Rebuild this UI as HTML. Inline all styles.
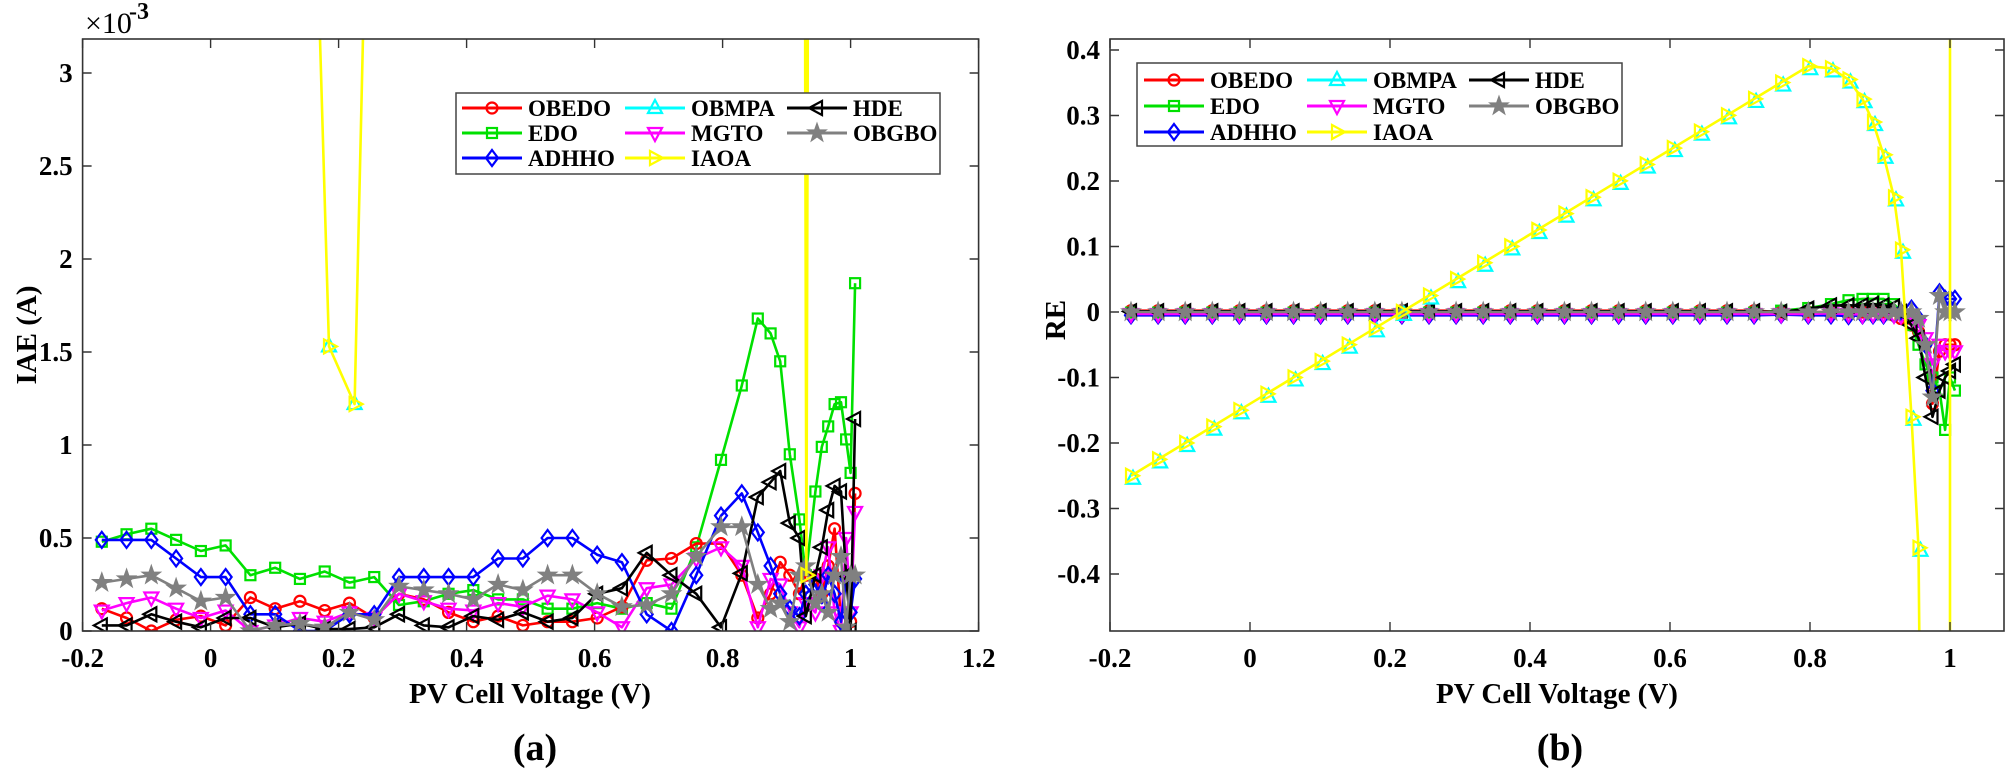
<!DOCTYPE html>
<html><head><meta charset="utf-8">
<style>
html,body{margin:0;padding:0;background:#fff;}
svg{display:block;}
svg text{font-family:"Liberation Serif","Times New Roman",serif;font-weight:bold;}
</style></head>
<body>
<svg id="s" width="2007" height="772" viewBox="0 0 2007 772" xmlns="http://www.w3.org/2000/svg" font-family="Liberation Serif, serif" font-weight="bold">
<defs>
<clipPath id="c1"><rect x="83" y="39" width="896" height="592"/></clipPath>
<clipPath id="c2"><rect x="1110" y="39" width="894" height="592"/></clipPath>
</defs>
<rect width="2007" height="772" fill="#fff"/>
<g id="g1" clip-path="url(#c1)"></g>
<g id="g2" clip-path="url(#c2)"></g>
<g id="ax"></g>
</svg>
<script>
var NS="http://www.w3.org/2000/svg";
function el(p,t,a,txt){var e=document.createElementNS(NS,t);for(var k in a)e.setAttribute(k,a[k]);if(txt!==undefined)e.textContent=txt;p.appendChild(e);return e;}
var V=[];for(var k=0;k<26;k++)V.push(-0.17+0.0387*k);
V=V.concat([0.83,0.855,0.875,0.89,0.905,0.92,0.93,0.945,0.955,0.965,0.975,0.985,0.993,1.0,1.007]);
function X1(v){return 82.6+(v+0.2)*640;} function Y1(a){return 631-a*186;}
function X2(v){return 1110+(v+0.2)*700;} function Y2(r){return 312-r*655;}
function marker(g,type,x,y,c){
 var sw=2.2;
 if(type=='o')el(g,'circle',{cx:x,cy:y,r:5.5,fill:'none',stroke:c,'stroke-width':sw});
 else if(type=='s')el(g,'rect',{x:x-5,y:y-5,width:10,height:10,fill:'none',stroke:c,'stroke-width':sw});
 else if(type=='d')el(g,'polygon',{points:(x)+','+(y-8)+' '+(x+6)+','+y+' '+x+','+(y+8)+' '+(x-6)+','+y,fill:'none',stroke:c,'stroke-width':sw});
 else if(type=='^')el(g,'polygon',{points:x+','+(y-8)+' '+(x+7)+','+(y+5)+' '+(x-7)+','+(y+5),fill:'none',stroke:c,'stroke-width':sw});
 else if(type=='v')el(g,'polygon',{points:x+','+(y+8)+' '+(x+7)+','+(y-5)+' '+(x-7)+','+(y-5),fill:'none',stroke:c,'stroke-width':sw});
 else if(type=='>')el(g,'polygon',{points:(x+8)+','+y+' '+(x-5)+','+(y-7)+' '+(x-5)+','+(y+7),fill:'none',stroke:c,'stroke-width':sw});
 else if(type=='<')el(g,'polygon',{points:(x-8)+','+y+' '+(x+5)+','+(y-7)+' '+(x+5)+','+(y+7),fill:'none',stroke:c,'stroke-width':sw});
 else if(type=='*'){var p=[];for(var i=0;i<10;i++){var r=i%2?4:10,a=-Math.PI/2+i*Math.PI/5;p.push((x+r*Math.cos(a)).toFixed(1)+','+(y+r*Math.sin(a)).toFixed(1));}
  el(g,'polygon',{points:p.join(' '),fill:c,stroke:c,'stroke-width':1});}
}
function series(g,X,Y,xs,ys,c,m,noMarkIdx){
 var d='';for(var i=0;i<xs.length;i++)d+=(i?'L':'M')+X(xs[i]).toFixed(1)+','+Y(ys[i]).toFixed(1);
 el(g,'path',{d:d,fill:'none',stroke:c,'stroke-width':2.6,'stroke-linejoin':'round'});
 for(var i=0;i<xs.length;i++){if(noMarkIdx&&noMarkIdx.indexOf(i)>=0)continue;marker(g,m,X(xs[i]),Y(ys[i]),c);}
}
var g1=document.getElementById('g1'),g2=document.getElementById('g2'),ax=document.getElementById('ax');
var L={
 green:[.48,.52,.55,.49,.43,.46,.3,.34,.28,.32,.26,.29,.14,.16,.2,.22,.17,.17,.12,.12,.15,.12,.15,.12,.45,.92,1.32,1.68,1.6,1.45,.95,.6,.3,.75,.99,1.1,1.22,1.23,1.03,.85,1.87],
 blue:[.49,.49,.49,.39,.29,.29,.09,.09,0,0,.09,.09,.29,.29,.29,.29,.39,.39,.5,.5,.41,.37,.09,0,.3,.62,.74,.53,.35,.2,.12,.08,.2,.25,.15,.3,.2,.05,.28,.1,.28],
 red:[.12,.07,0,.06,.08,.03,.18,.12,.16,.11,.15,.07,.2,.17,.1,.05,.08,.03,.05,.05,.07,.13,.38,.39,.47,.47,.3,.07,.2,.37,.3,.2,.3,.28,.2,.35,.55,.05,.3,.05,.74],
 mag:[.11,.15,.18,.12,.07,.11,0,.03,.07,.05,.1,.07,.2,.16,.12,.11,.15,.13,.19,.17,.1,.02,.23,.25,.39,.45,.35,.02,.28,.25,.1,.02,.15,.1,.3,.45,.1,0,.5,.1,.64],
 black:[.03,.03,.09,.05,.02,.07,.07,.02,.04,.01,.01,.02,.09,.03,.02,.08,.06,.1,.05,.07,.2,.23,.42,.3,.2,.02,.31,.72,.8,.86,.58,.5,.08,.3,.45,.65,.78,.75,.3,0,1.14],
 gray:[.26,.28,.3,.23,.16,.18,0,.03,.04,.02,.1,.06,.24,.22,.2,.17,.25,.22,.3,.3,.2,.13,.14,.2,.4,.56,.56,.25,.12,.15,.05,.3,.35,.15,.2,.1,.3,.4,.02,.3,.3]
};
series(g1,X1,Y1,V,L.green,'#00e000','s');
series(g1,X1,Y1,V,L.red,'#ff0000','o');
series(g1,X1,Y1,V,L.mag,'#ff00ff','v');
series(g1,X1,Y1,V,L.blue,'#0000ff','d');
series(g1,X1,Y1,V,L.black,'#000000','<');
series(g1,X1,Y1,V,L.gray,'#808080','*');
var yx=[0.13,0.185,0.225,0.27],yy=[8,1.53,1.22,8];
marker(g1,'^',X1(0.185),Y1(1.53),'#00ffff');marker(g1,'^',X1(0.225),Y1(1.22),'#00ffff');
series(g1,X1,Y1,yx,yy,'#ffff00','>',[0,3]);
series(g1,X1,Y1,[0.928,0.929,0.931,0.933,0.934],[8,3,0.3,3,8],'#ffff00','>',[0,1,3,4]);
function lin(v){return -0.25+(v+0.17)*0.625/0.967;}
var RY=[];for(var i=0;i<26;i++)RY.push(lin(V[i]));
var tailY=[.372,.355,.325,.29,.24,.175,.095,-.16,-.36];
var rx=V.slice(0,35),ry=RY.concat(tailY);
function near(tail,off){var a=[];for(var i=0;i<41;i++){a.push(i<24?off:(tail[i-24]!==undefined?tail[i-24]:off));}return a;}
var R={
 green:near([.002,.006,.012,.018,.02,.02,.02,.012,.0,-.02,-.05,-.08,-.1,-.12,-.18,-.1,-.12,-.15],-0.001),
 black:near([.0,.005,.01,.01,.01,.012,.01,.008,.0,-.02,-.04,-.1,-.16,-.12,-.1,-.09,-.08],0.001),
 red:near([0,0,0,0,0,.002,0,-.005,-.01,-.02,-.03,-.05,-.14,-.06,-.05,-.05,-.05],0.002),
 blue:near([-.004,-.005,-.005,-.006,-.005,-.005,-.005,-.004,0,.005,-.01,-.05,-.12,.03,.02,.02,.02],-0.005),
 mag:near([-.003,-.003,-.002,-.003,-.004,-.003,-.003,-.004,-.005,-.01,-.02,-.04,-.08,-.05,-.06,-.06,-.06],-0.003),
 gray:near([0,0,0,0,0,0,0,0,0,0,-.01,-.05,-.13,.025,0,.0,.0],0)
};
series(g2,X2,Y2,V,R.red,'#ff0000','o');
series(g2,X2,Y2,V,R.green,'#00e000','s');
series(g2,X2,Y2,V,R.blue,'#0000ff','d');
series(g2,X2,Y2,V,R.mag,'#ff00ff','v');
series(g2,X2,Y2,V,R.black,'#000000','<');
series(g2,X2,Y2,V,R.gray,'#808080','*');
for(var i=0;i<rx.length;i++)marker(g2,'^',X2(rx[i])+2,Y2(ry[i])+3,'#00ffff');
series(g2,X2,Y2,rx,ry,'#ffff00','>');
el(g2,'path',{d:'M'+X2(0.955)+','+Y2(-0.36)+'L'+X2(0.957)+',700M'+X2(1.0)+',20L'+X2(1.0)+',700',fill:'none',stroke:'#ffff00','stroke-width':2.6});
function axes(x0,y0,x1,y1,xt,yt,X,Y){
 el(ax,'rect',{x:x0,y:y0,width:x1-x0,height:y1-y0,fill:'none',stroke:'#333','stroke-width':1.6});
 xt.forEach(function(t){var x=X(t[0]);el(ax,'path',{d:'M'+x+','+y1+'v-9M'+x+','+y0+'v9',stroke:'#333','stroke-width':1.4});
  el(ax,'text',{x:x,y:667,'text-anchor':'middle','font-size':27},t[1]);});
 yt.forEach(function(t){var y=Y(t[0]);el(ax,'path',{d:'M'+x0+','+y+'h9M'+x1+','+y+'h-9',stroke:'#333','stroke-width':1.4});
  el(ax,'text',{x:x0-10,y:y+9,'text-anchor':'end','font-size':27},t[1]);});
}
axes(82.6,39,978.6,631,[[-0.2,'-0.2'],[0,'0'],[0.2,'0.2'],[0.4,'0.4'],[0.6,'0.6'],[0.8,'0.8'],[1,'1'],[1.2,'1.2']],
 [[0,'0'],[0.5,'0.5'],[1,'1'],[1.5,'1.5'],[2,'2'],[2.5,'2.5'],[3,'3']],X1,Y1);
axes(1110,39,2004,631,[[-0.2,'-0.2'],[0,'0'],[0.2,'0.2'],[0.4,'0.4'],[0.6,'0.6'],[0.8,'0.8'],[1,'1']],
 [[-0.4,'-0.4'],[-0.3,'-0.3'],[-0.2,'-0.2'],[-0.1,'-0.1'],[0,'0'],[0.1,'0.1'],[0.2,'0.2'],[0.3,'0.3'],[0.4,'0.4']],X2,Y2);
el(ax,'text',{x:85,y:33,'font-size':30,style:'font-weight:normal'},'\u00d710');
el(ax,'text',{x:129,y:19,'font-size':24},'-3');
el(ax,'text',{x:530,y:703,'text-anchor':'middle','font-size':29},'PV Cell Voltage (V)');
el(ax,'text',{x:1557,y:703,'text-anchor':'middle','font-size':29},'PV Cell Voltage (V)');
el(ax,'text',{x:535,y:760,'text-anchor':'middle','font-size':38},'(a)');
el(ax,'text',{x:1560,y:760,'text-anchor':'middle','font-size':38},'(b)');
el(ax,'text',{x:36,y:335,'text-anchor':'middle','font-size':29,transform:'rotate(-90 36 335)'},'IAE (A)');
el(ax,'text',{x:1065,y:320,'text-anchor':'middle','font-size':29,transform:'rotate(-90 1065 320)'},'RE');
var items=[['OBEDO','#ff0000','o'],['EDO','#00e000','s'],['ADHHO','#0000ff','d'],['OBMPA','#00ffff','^'],['MGTO','#ff00ff','v'],['IAOA','#ffff00','>'],['HDE','#000000','<'],['OBGBO','#808080','*']];
function legend(bx,by,bw,bh,cols,rows,lw){
 el(ax,'rect',{x:bx,y:by,width:bw,height:bh,fill:'#fff',stroke:'#444','stroke-width':1.5});
 items.forEach(function(it,i){var c=Math.floor(i/3),r=i%3;var x=cols[c],y=rows[r];
  el(ax,'path',{d:'M'+x+','+y+'h'+lw,stroke:it[1],'stroke-width':3});
  marker(ax,it[2],x+lw/2,y,it[1]);
  el(ax,'text',{x:x+lw+6,y:y+8,'font-size':23},it[0]);});
}
legend(456,93,484,81,[462,625,787],[108,133,158],60);
legend(1137,63,485,83,[1144,1307,1469],[80,106,132],60);
</script>
</body></html>
